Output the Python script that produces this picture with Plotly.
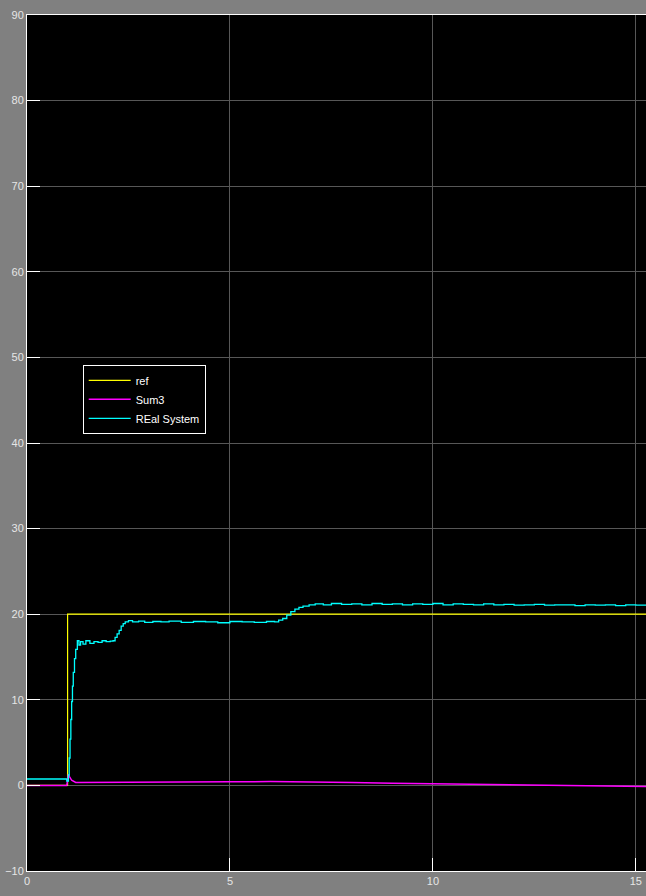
import plotly.graph_objects as go

# reference signal (step at t=1)
t_ref = [0, 1.0, 15.25]
ref = [0, 20, 20]

# Sum3 signal
t_sum3 = [0, 0.98, 1.0, 1.02, 1.05, 1.1, 1.2, 2, 3, 4, 5, 6, 7, 8, 9, 10, 11, 12, 13, 14, 15.25]
sum3 = [0, 0, 0.6, 1.3, 1.0, 0.6, 0.35, 0.35, 0.37, 0.4, 0.42, 0.45, 0.42, 0.35, 0.25, 0.18,
        0.1, 0.05, -0.02, -0.08, -0.12]

# measured output of the real system
t_real = [0, 0.95, 0.98, 1.02, 1.04, 1.06, 1.08, 1.1, 1.12, 1.14, 1.17, 1.2, 1.24, 1.28, 1.32,
          1.38, 1.45, 1.55, 1.65, 1.75, 1.85, 1.95, 2.05, 2.12, 2.17, 2.22, 2.27, 2.32, 2.37,
          2.42, 2.5, 2.6, 2.75, 2.9, 3.1, 3.3, 3.5, 3.8, 4.1, 4.4, 4.7, 5.0, 5.3, 5.6, 5.9,
          6.1, 6.2, 6.3, 6.4, 6.5, 6.6, 6.7, 6.8, 6.95, 7.1, 7.3, 7.5, 7.75, 8.0, 8.25, 8.5,
          8.75, 9.0, 9.25, 9.5, 9.75, 10.0, 10.25, 10.5, 10.75, 11.0, 11.25, 11.5, 11.75, 12.0,
          12.25, 12.5, 12.75, 13.0, 13.25, 13.5, 13.75, 14.0, 14.25, 14.5, 14.75, 15.0, 15.25]
real = [0.75, 0.75, 0.5, 1.2, 3.2, 5.4, 7.7, 9.8, 11.6, 13.2, 14.8, 15.9, 16.9, 16.4, 16.8,
        16.5, 16.9, 16.6, 16.8, 16.7, 16.9, 16.8, 16.85, 16.9, 17.3, 17.7, 18.1, 18.6, 18.9,
        19.1, 19.25, 19.1, 19.2, 19.05, 19.15, 19.1, 19.2, 19.05, 19.15, 19.1, 19.0, 19.15,
        19.1, 19.05, 19.15, 19.1, 19.3, 19.5, 19.9, 20.3, 20.6, 20.8, 20.95, 21.1, 21.2,
        21.1, 21.25, 21.15, 21.2, 21.1, 21.25, 21.15, 21.2, 21.1, 21.2, 21.15, 21.25, 21.1,
        21.2, 21.15, 21.1, 21.2, 21.1, 21.15, 21.05, 21.1, 21.15, 21.05, 21.1, 21.1, 21.0,
        21.1, 21.05, 21.1, 21.0, 21.1, 21.05, 21.1]

fig = go.Figure()
fig.add_trace(go.Scatter(x=t_ref, y=ref, name="ref", mode="lines", line_shape="hv",
                         line=dict(color="#ffff00", width=1.2)))
fig.add_trace(go.Scatter(x=t_sum3, y=sum3, name="Sum3", mode="lines",
                         line=dict(color="#ff00ff", width=1.5)))
fig.add_trace(go.Scatter(x=t_real, y=real, name="REal System", mode="lines", line_shape="hv",
                         line=dict(color="#00ffff", width=1.3)))

axis_style = dict(showgrid=True, gridcolor="#575757", gridwidth=1, zeroline=False,
                  showline=True, linecolor="white", linewidth=1, mirror=True,
                  ticks="inside", ticklen=13, tickcolor="white", tickwidth=1,
                  automargin=False,
                  tickfont=dict(family="Liberation Sans, Arial", size=11, color="#e6e6e6"))

fig.update_xaxes(range=[0, 15.25], tickvals=[0, 5, 10, 15], **axis_style)
fig.update_yaxes(range=[-10, 90], tickvals=list(range(-10, 91, 10)), **axis_style)

fig.update_layout(
    width=646, height=896,
    margin=dict(l=27, r=0, t=15, b=25),
    paper_bgcolor="#808080", plot_bgcolor="black",
    showlegend=True,
    legend=dict(x=0.09, y=0.551, xanchor="left", yanchor="middle",
                bgcolor="black", bordercolor="white", borderwidth=1,
                font=dict(family="Liberation Sans, Arial", size=11, color="white"),
                tracegroupgap=0, itemwidth=42),
)

# drop the browser's default body margin so the figure fills the window
fig.write_html("out.html", config={"displayModeBar": False},
               post_script="document.body.style.margin='0';")
